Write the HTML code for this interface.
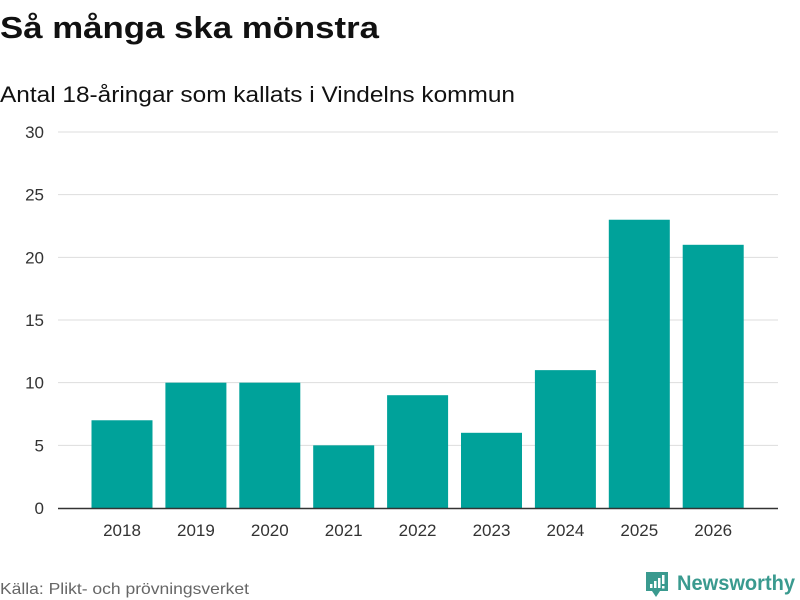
<!DOCTYPE html>
<html><head><meta charset="utf-8">
<style>
body{margin:0;background:#fff;width:800px;height:600px;overflow:hidden;font-family:"Liberation Sans","DejaVu Sans",sans-serif;}
svg{display:block}
</style></head>
<body>
<svg id="c" width="800" height="600" xmlns="http://www.w3.org/2000/svg">
<text x="0" y="38" font-size="31" font-weight="bold" fill="#111" textLength="379" lengthAdjust="spacingAndGlyphs">Så många ska mönstra</text>
<text x="0" y="102" font-size="22" fill="#111" textLength="515" lengthAdjust="spacingAndGlyphs">Antal 18-åringar som kallats i Vindelns kommun</text>
<g id="grid"></g>
<g id="bars"></g>
<g id="xl"></g>
<line x1="58" x2="778" y1="508.5" y2="508.5" stroke="#333" stroke-width="1.5"/>
<text x="0" y="594" font-size="16" fill="#666" textLength="249" lengthAdjust="spacingAndGlyphs">Källa: Plikt- och prövningsverket</text>
<g>
<path d="M646 572 h22 v19 h-8 l-4 6 l-4 -6 h-6 z" fill="#3a9a8f"/>
<rect x="650" y="584" width="2.5" height="4" fill="#fff"/>
<rect x="654" y="581" width="2.5" height="7" fill="#fff"/>
<rect x="658" y="578" width="2.5" height="10" fill="#fff"/>
<rect x="662" y="575" width="2.5" height="9" fill="#fff"/>
<rect x="662" y="586" width="2.5" height="2.5" fill="#fff"/>
<text x="677" y="590" font-size="21" font-weight="bold" fill="#3a9a8f" textLength="118" lengthAdjust="spacingAndGlyphs">Newsworthy</text>
</g>
</svg>
<script>
const categories=["2018","2019","2020","2021","2022","2023","2024","2025","2026"];
const values=[7,10,10,5,9,6,11,23,21];
const yTicks=[0,5,10,15,20,25,30];
const NS="http://www.w3.org/2000/svg";
const x0=58,x1=778,yBase=508,yTop=132,yMax=30;
const y=v=>yBase-(yBase-yTop)*v/yMax;
const step=73.9,first=122,bw=61;
const xc=i=>first+i*step;
function mk(t,a,p){const e=document.createElementNS(NS,t);for(const k in a)e.setAttribute(k,a[k]);p.appendChild(e);return e;}
const grid=document.getElementById('grid');
yTicks.forEach(t=>{
  if(t>0){const l=mk('line',{x1:x0,x2:x1,y1:y(t),y2:y(t),stroke:'#ddd','stroke-width':1},grid);
  
  }
  const tx=mk('text',{x:44,y:y(t)+6,'font-size':17,fill:'#333','text-anchor':'end'},grid);
  tx.textContent=t;
  
  
});
const bars=document.getElementById('bars'),xl=document.getElementById('xl');
categories.forEach((c,i)=>{
  const r=mk('rect',{x:xc(i)-bw/2,y:y(values[i]),width:bw,height:yBase-y(values[i]),fill:'#00a29a'},bars);
  
  
  const t=mk('text',{x:xc(i),y:536,'font-size':17,fill:'#333','text-anchor':'middle'},xl);
  t.textContent=c;
  
  
});
</script>
</body></html>
